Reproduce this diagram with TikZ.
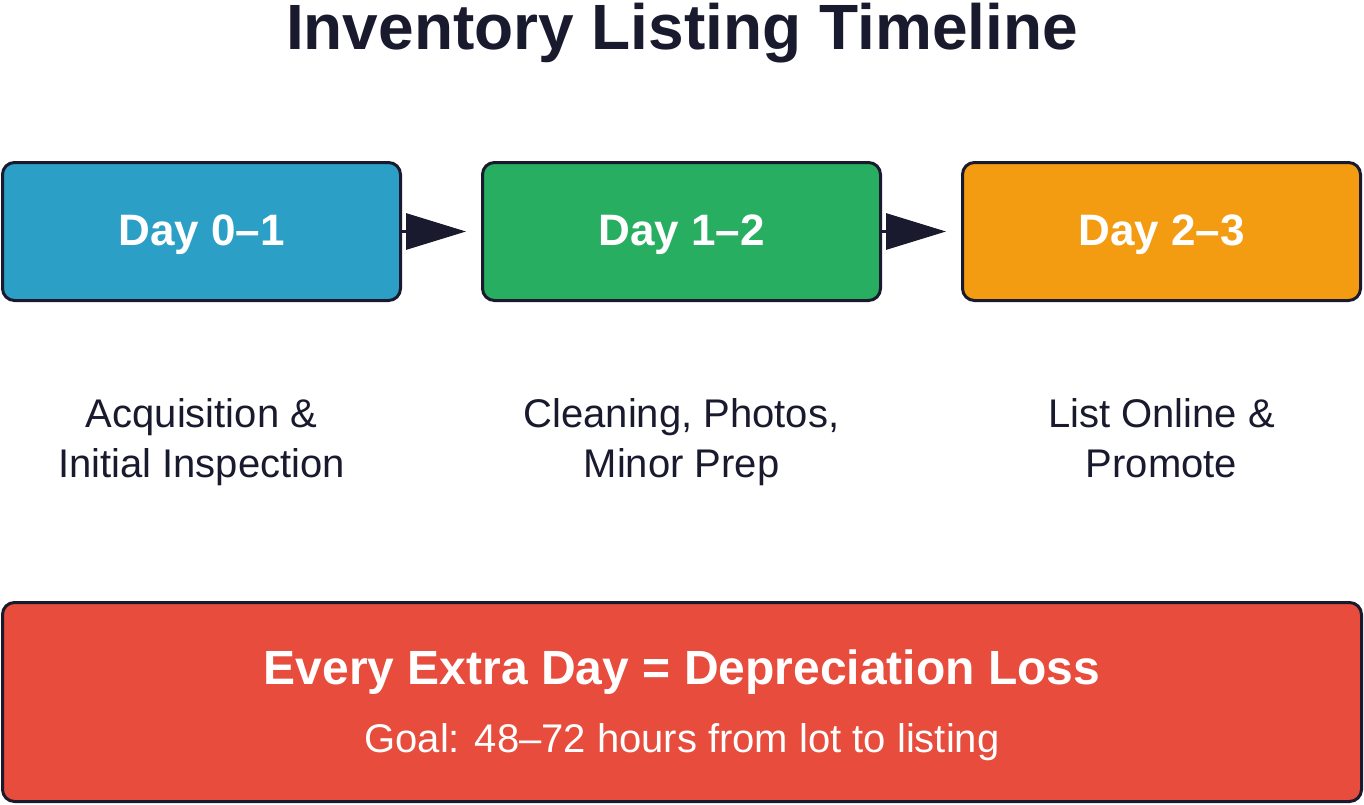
\documentclass[tikz,border=0pt]{standalone}
\usepackage{fontspec}
\setmainfont{Liberation Sans}
\usetikzlibrary{arrows.meta}

\definecolor{ink}{HTML}{1A1A2E}
\definecolor{dayblue}{HTML}{2C9FC7}
\definecolor{daygreen}{HTML}{27AE60}
\definecolor{dayorange}{HTML}{F39C12}
\definecolor{lossred}{HTML}{E74C3C}

\tikzset{
    daybox/.style={draw=ink, line width=3pt, rounded corners=12pt,
        minimum width=398pt, minimum height=138pt, inner sep=0pt},
    daytext/.style={text=white, font=\fontsize{44}{52}\selectfont\bfseries},
    desc/.style={text=ink, align=center, font=\fontsize{40}{50}\selectfont, anchor=base},
    flow/.style={draw=ink, line width=3pt, -{Triangle[length=60pt,width=36pt]}, shorten >=15pt}
}

\begin{document}
\begin{tikzpicture}[x=1pt,y=-1pt]
        \useasboundingbox[fill=white] (0,0) rectangle (1364,804);

        \node[text=ink, font=\fontsize{64}{72}\selectfont\bfseries, anchor=base] (title) at (682,49) {Inventory Listing Timeline};

        \node[daybox, fill=dayblue] (d01) at (201.5,231.5) {};
        \node[daybox, fill=daygreen] (d12) at (681.5,231.5) {};
        \node[daybox, fill=dayorange] (d23) at (1161.5,231.5) {};

        \node[daytext, anchor=base] at (201.5,245) {Day 0--1};
        \node[daytext, anchor=base] at (681.5,245) {Day 1--2};
        \node[daytext, anchor=base] at (1161.5,245) {Day 2--3};

        \draw[flow] (d01.east) -- (d12.west);
        \draw[flow] (d12.east) -- (d23.west);

        \node[desc] (s01) at (201.5,477) {Acquisition \&\\Initial Inspection};
        \node[desc] (s12) at (681.5,477) {Cleaning, Photos,\\Minor Prep};
        \node[desc] (s23) at (1161.5,477) {List Online \&\\Promote};

        \node[daybox, fill=lossred, minimum width=1359pt, minimum height=199pt] (loss) at (682,702) {};
        \node[text=white, font=\fontsize{48}{56}\selectfont\bfseries, anchor=base] at (682,684) {Every Extra Day = Depreciation Loss};
        \node[text=white, font=\fontsize{40}{48}\selectfont, anchor=base] at (682,752) {Goal: 48--72 hours from lot to listing};

    \end{tikzpicture}
\end{document}
